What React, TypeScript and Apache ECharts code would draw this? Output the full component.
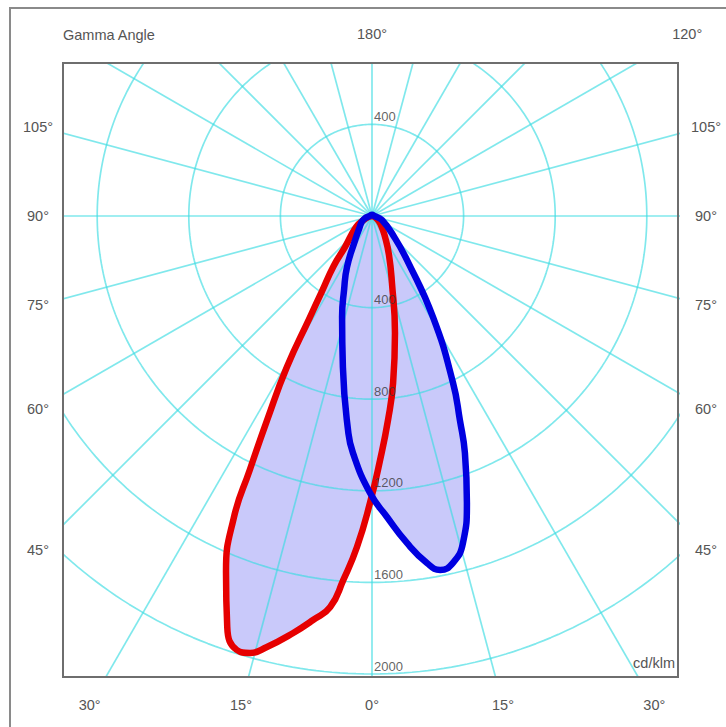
import React, { useEffect, useRef } from "react";
import * as echarts from "echarts";

// ---- Data (gamma in degrees from nadir, intensity in cd/klm) ----
const redGamma = [-90, -75, -65, -55, -41, -37.5, -33.6, -31.5, -29.4, -27.2, -25.7, -24.6, -22.3, -19.4, -17.3, -15.6, -13.7, -10.7, -8.3, -6.1, -4.5, -2.6, -0.4, 1.9, 4.5, 7.2, 11.1, 16.6, 23.5, 31.8, 45, 60, 90];
const redIntensity = [0, 15, 40, 85, 180, 275, 395, 520, 757, 1002, 1230, 1450, 1680, 1903, 1985, 1981, 1937, 1853, 1783, 1717, 1594, 1447, 1253, 1066, 893, 735, 521, 305, 186, 108, 55, 25, 0];

const blueGamma = [-90, -66, -45, -35, -26.1, -20.7, -16.5, -10.9, -6.4, -4.6, -0.4, 2.85, 6.1, 9.0, 10.9, 13.1, 15.55, 18.3, 21.4, 23.3, 25.9, 31.1, 38.5, 46, 68, 90, 180, 270];
const blueIntensity = [10, 43, 80, 128, 248, 345, 460, 672, 940, 1038, 1210, 1316, 1436, 1534, 1574, 1556, 1482, 1320, 1112, 970, 810, 515, 245, 139, 47, 10, 5, 10];

const radialTicks = [400, 800, 1200, 1600, 2000];
const upperRadialTicks = [400];
const spokeAngles = [0, 15, 30, 45, 60, 75, 90, 105, 120, 135, 150, 165, 180, 195, 210, 225, 240, 255, 270, 285, 300, 315, 330, 345];

const sideTickAngles = [105, 90, 75, 60, 45];
const sideTickLabels = ["105°", "90°", "75°", "60°", "45°"];
const bottomTickAngles = [-30, -15, 0, 15, 30];
const bottomTickLabels = ["30°", "15°", "0°", "15°", "30°"];
const topTickAngles = [180, 120];
const topTickLabels = ["180°", "120°"];
const titleText = "Gamma Angle";
const unitText = "cd/klm";

// ---- Layout ----
const CX = 372;
const CY = 216;
const K = 0.229; // px per cd/klm
const FL = 63, FT = 63, FR = 678, FB = 677;

const rad = (d: number) => (d * Math.PI) / 180;
const toXY = (g: number, I: number): [number, number] => [I * Math.sin(rad(g)), -I * Math.cos(rad(g))];

const FONT = "Arial, 'Liberation Sans', sans-serif";

export default function App() {
  const ref = useRef<HTMLDivElement>(null);

  useEffect(() => {
    document.body.style.margin = "0";
    if (!ref.current) return;
    const chart = echarts.init(ref.current, undefined, { renderer: "svg" });

    const redPts = redGamma.map((g, i) => toXY(g, redIntensity[i]));
    const bluePts = blueGamma.map((g, i) => toXY(g, blueIntensity[i]));

    const gridColor = "rgba(60,220,226,0.65)";
    const series: any[] = [];
    const SMOOTH = 0.5;

    const fillSeries = (pts: [number, number][], z: number) => ({
      type: "custom",
      coordinateSystem: "cartesian2d",
      silent: true,
      z,
      data: [[0, 0]],
      renderItem: (_p: any, api: any) => ({
        type: "polygon",
        shape: { points: pts.map((p) => api.coord(p)), smooth: SMOOTH },
        style: { fill: "#c9c9fa", stroke: "#c9c9fa", lineWidth: 2 },
      }),
    });
    const strokeSeries = (pts: [number, number][], color: string, z: number) => ({
      type: "line",
      data: pts,
      smooth: SMOOTH,
      showSymbol: false,
      silent: true,
      z,
      clip: true,
      lineStyle: { color, width: 6.5, join: "round", cap: "round" },
    });

    series.push(fillSeries(redPts, 1));
    series.push(fillSeries(bluePts, 1));

    // circles
    radialTicks.forEach((r) => {
      const pts: [number, number][] = [];
      for (let a = 0; a <= 360; a += 1) pts.push(toXY(a, r));
      series.push({
        type: "line",
        data: pts,
        showSymbol: false,
        silent: true,
        z: 2,
        clip: true,
        lineStyle: { color: gridColor, width: 1.7 },
      });
    });
    // spokes
    spokeAngles.forEach((a) => {
      series.push({
        type: "line",
        data: [[0, 0], toXY(a, 3200)],
        showSymbol: false,
        silent: true,
        z: 2,
        clip: true,
        lineStyle: { color: gridColor, width: 1.7 },
      });
    });

    series.push(strokeSeries(redPts, "#e60000", 3));
    series.push(strokeSeries([...bluePts, bluePts[0]], "#0000e0", 4));

    // radial value labels
    const labelPts = [
      ...upperRadialTicks.map((r) => ({ value: toXY(180, r), name: String(r) })),
      ...radialTicks.map((r) => ({ value: toXY(0, r), name: String(r) })),
    ];
    series.push({
      type: "scatter",
      data: labelPts,
      symbolSize: 1,
      silent: true,
      z: 5,
      itemStyle: { color: "rgba(0,0,0,0)" },
      label: {
        show: true,
        formatter: (p: any) => p.name,
        position: [2.5, -1],
        align: "left",
        verticalAlign: "bottom",
        fontSize: 13,
        fontFamily: FONT,
        color: "#3a3a3a",
      },
    });

    const texts: any[] = [];
    const txt = (x: number, y: number, text: string, align = "center") => ({
      type: "text",
      x,
      y,
      z: 100,
      silent: true,
      style: { text, x: 0, y: 0, align, verticalAlign: "middle", fontSize: 14.5, fontFamily: FONT, fill: "#555" },
    });
    const D = 334;
    sideTickAngles.forEach((a, i) => {
      const y = CY + D / Math.tan(rad(a));
      texts.push(txt(CX - D, y, sideTickLabels[i]));
      texts.push(txt(CX + D, y, sideTickLabels[i]));
    });
    const DB = 489;
    bottomTickAngles.forEach((a, i) => {
      texts.push(txt(CX + DB * Math.tan(rad(a)), CY + DB, bottomTickLabels[i]));
    });
    const DT = CY - 34;
    topTickAngles.forEach((a, i) => {
      texts.push(txt(CX + DT * Math.tan(rad(180 - a)), CY - DT, topTickLabels[i]));
    });
    texts.push(txt(FL, 35, titleText, "left"));
    texts.push(txt(FR - 3, FB - 14, unitText, "right"));

    chart.setOption({
      animation: false,
      backgroundColor: "#ffffff",
      grid: { left: FL, top: FT, width: FR - FL, height: FB - FT, show: false },
      xAxis: { type: "value", min: (FL - CX) / K, max: (FR - CX) / K, show: false },
      yAxis: { type: "value", min: -(FB - CY) / K, max: (CY - FT) / K, show: false },
      series,
      graphic: [
        {
          type: "rect",
          z: 100,
          silent: true,
          shape: { x: 10, y: 8, width: 760, height: 760 },
          style: { fill: "none", stroke: "#8a8a8a", lineWidth: 2 },
        },
        {
          type: "rect",
          z: 100,
          silent: true,
          shape: { x: FL, y: FT, width: FR - FL, height: FB - FT },
          style: { fill: "none", stroke: "#6e6e6e", lineWidth: 2 },
        },
        ...texts,
      ],
    });

    return () => chart.dispose();
  }, []);

  return <div ref={ref} style={{ width: 726, height: 727 }} />;
}
